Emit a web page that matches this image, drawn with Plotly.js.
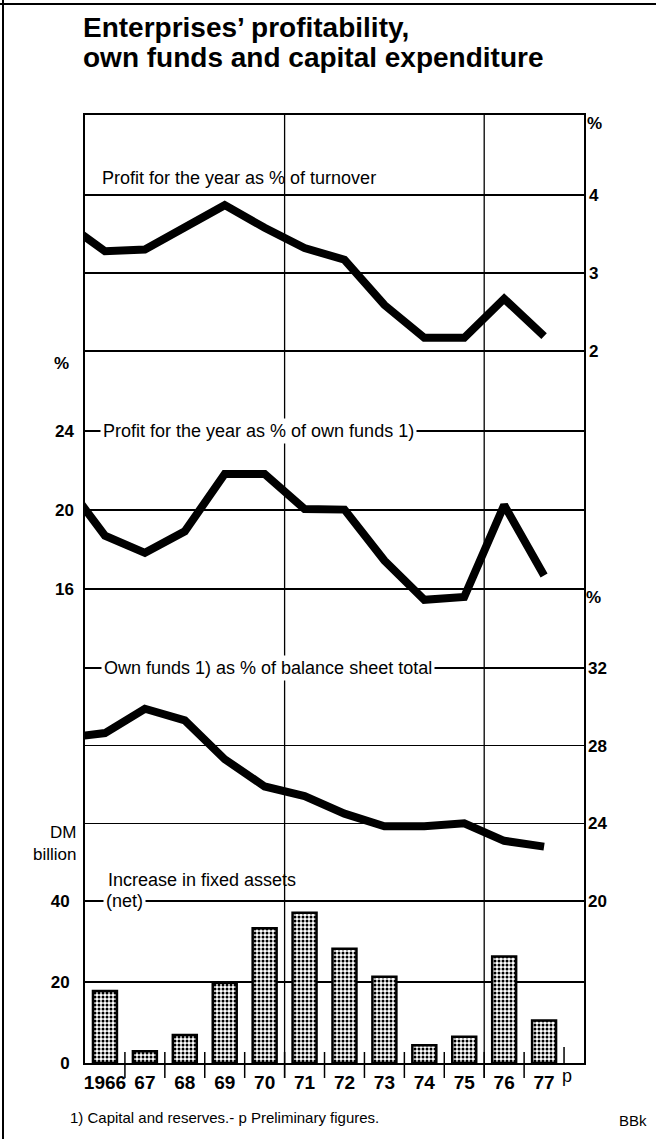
<!DOCTYPE html>
<html>
<head>
<meta charset="utf-8">
<script src="https://cdn.plot.ly/plotly-3.0.1.min.js"></script>
<style>html,body{margin:0;padding:0;background:#fff}#chart{width:656px;height:1139px}</style>
</head>
<body>
<div id="chart"></div>
<script>
// ---- data ----
const years = [1966, 1967, 1968, 1969, 1970, 1971, 1972, 1973, 1974, 1975, 1976, 1977];
const yearLabels = ['1966', '67', '68', '69', '70', '71', '72', '73', '74', '75', '76', '77'];
// line series start with the (partly visible) 1965 value that enters at the left frame
const lineYears = [1965, 1966, 1967, 1968, 1969, 1970, 1971, 1972, 1973, 1974, 1975, 1976, 1977];
const profitTurnover = [3.65, 3.28, 3.30, 3.58, 3.87, 3.58, 3.32, 3.17, 2.59, 2.17, 2.17, 2.67, 2.19];
const profitOwnFunds = [21.4, 18.70, 17.83, 18.92, 21.82, 21.82, 20.05, 20.02, 17.44, 15.45, 15.60, 20.25, 16.68];
const ownFundsShare = [28.4, 28.65, 29.90, 29.30, 27.30, 25.90, 25.40, 24.50, 23.85, 23.85, 24.00, 23.10, 22.80];
const fixedAssets = [17.8, 2.9, 6.9, 19.8, 33.3, 37.1, 28.2, 21.3, 4.4, 6.5, 26.3, 10.5];

const ticksTurnover = [2, 3, 4];
const ticksOwnFundsProfit = [16, 20, 24];
const ticksOwnFundsShare = [20, 24, 28, 32];
const ticksFixedAssets = [0, 20, 40];
const gridAfterYears = [1970, 1975];

const titleLines = ['Enterprises’ profitability,', 'own funds and capital expenditure'];

// ---- geometry (pixels) ----
const W = 656, H = 1139;
const L = 85, R = 584, T = 115, B = 1063;
const PW = R - L, PH = B - T;
const FONT = 'Liberation Sans, Arial, Helvetica, sans-serif';
function px(x) { return (x - L) / PW; }
function py(y) { return (B - y) / PH; }
// axis range so that value v1 sits at pixel p1 and v2 at pixel p2
function rangeFor(v1, p1, v2, p2) {
  const k = (v2 - v1) / (p2 - p1);
  return [v1 + (B - p1) * k, v1 + (T - p1) * k];
}

const lineStyle = {color: '#000', width: 8};
const traces = [
  {type: 'bar', x: years, y: fixedAssets, yaxis: 'y', width: 0.6,
   marker: {color: '#fff', line: {color: '#000', width: 2.5},
            pattern: {shape: '.', fgcolor: '#000', bgcolor: '#fff', size: 4, solidity: 0.45}},
   hoverinfo: 'skip', showlegend: false},
  {type: 'scatter', mode: 'lines', x: lineYears, y: profitTurnover, yaxis: 'y2', line: lineStyle, hoverinfo: 'skip', showlegend: false},
  {type: 'scatter', mode: 'lines', x: lineYears, y: profitOwnFunds, yaxis: 'y3', line: lineStyle, hoverinfo: 'skip', showlegend: false},
  {type: 'scatter', mode: 'lines', x: lineYears, y: ownFundsShare, yaxis: 'y4', line: lineStyle, hoverinfo: 'skip', showlegend: false}
];

const tickFont = {family: FONT, size: 17, color: '#000', weight: 700};
const gridBase = {showgrid: true, gridcolor: '#000', gridwidth: 1.3, zeroline: false, ticks: '', fixedrange: true, tickfont: tickFont};

const shapes = [];
years.forEach((yr, i) => {
  const last = i === years.length - 1;
  shapes.push({type: 'line', xref: 'x', yref: 'paper', x0: yr + 0.5, x1: yr + 0.5,
    y0: last ? py(1064) : py(1078), y1: last ? py(1047) : py(1052),
    line: {color: '#000', width: 1.5}, layer: 'above'});
});
gridAfterYears.forEach(yr => {
  shapes.push({type: 'line', xref: 'x', yref: 'paper', x0: yr + 0.5, x1: yr + 0.5,
    y0: py(1078), y1: 1, line: {color: '#000', width: 1.3}, layer: 'below'});
});
// page border (top and left)
shapes.push({type: 'line', xref: 'paper', yref: 'paper', x0: px(0), x1: px(W), y0: py(4), y1: py(4), line: {color: '#000', width: 2}});
shapes.push({type: 'line', xref: 'paper', yref: 'paper', x0: px(3), x1: px(3), y0: py(0), y1: py(H), line: {color: '#000', width: 2}});

const lab = {family: FONT, size: 18, color: '#000'};
const bold17 = {family: FONT, size: 17, color: '#000', weight: 700};
const titleFont = {family: FONT, size: 28, color: '#000', weight: 700};
function ann(text, x, y, opt) {
  return Object.assign({text: text, xref: 'paper', yref: 'paper', x: px(x), y: py(y),
    xanchor: 'left', yanchor: 'middle', showarrow: false, font: lab}, opt || {});
}
const annotations = [
  ann(titleLines[0], 81, 27, {font: titleFont}),
  ann(titleLines[1], 81, 58, {font: titleFont}),
  ann('Profit for the year as % of turnover', 100, 178),
  ann('Profit for the year as % of own funds 1)', 100, 431, {bgcolor: '#fff', borderpad: 2}),
  ann('Own funds 1) as % of balance sheet total', 101, 668, {bgcolor: '#fff', borderpad: 2}),
  ann('Increase in fixed assets', 106, 880),
  ann('(net)', 103, 901, {bgcolor: '#fff', borderpad: 2}),
  ann('%', 594, 123, {xanchor: 'center', font: bold17}),
  ann('%', 61, 363, {xanchor: 'center', font: bold17}),
  ann('%', 593, 597, {xanchor: 'center', font: bold17}),
  ann('DM<br>billion', 78, 843, {xanchor: 'right', align: 'right', font: {family: FONT, size: 17, color: '#000'}}),
  ann('p', 560, 1076, {font: lab}),
  ann('1) Capital and reserves.- p Preliminary figures.', 68, 1117, {font: {family: FONT, size: 15, color: '#000'}}),
  ann('BBk', 617, 1120, {font: {family: FONT, size: 15, color: '#000'}})
];

const layout = {
  width: W, height: H,
  margin: {l: L, r: W - R, t: T, b: H - B, pad: 0},
  paper_bgcolor: '#fff', plot_bgcolor: '#fff',
  showlegend: false,
  bargap: 0,
  xaxis: {range: [1965.5, 1978], tickvals: years, ticktext: yearLabels, ticks: '',
          showgrid: false, zeroline: false, showline: true, linecolor: '#000', linewidth: 2, mirror: true,
          tickfont: {family: FONT, size: 19, color: '#000', weight: 700}, fixedrange: true, ticklabelstandoff: 1},
  yaxis: Object.assign({}, gridBase, {range: rangeFor(40, 901, 0, 1063), tickvals: ticksFixedAssets, side: 'left',
          showline: true, linecolor: '#000', linewidth: 2, mirror: true, ticklabelstandoff: 10}),
  yaxis2: Object.assign({}, gridBase, {range: rangeFor(4, 195, 2, 351), tickvals: ticksTurnover, side: 'right',
          overlaying: 'y', ticklabelstandoff: 4}),
  yaxis3: Object.assign({}, gridBase, {range: rangeFor(24, 431, 16, 589), tickvals: ticksOwnFundsProfit, side: 'left',
          overlaying: 'y', ticklabelstandoff: 10}),
  yaxis4: Object.assign({}, gridBase, {range: rangeFor(32, 668, 20, 901), tickvals: ticksOwnFundsShare, side: 'right',
          overlaying: 'y', ticklabelstandoff: 3}),
  shapes: shapes,
  annotations: annotations
};

Plotly.newPlot('chart', traces, layout, {staticPlot: true, displayModeBar: false});
</script>
</body>
</html>
